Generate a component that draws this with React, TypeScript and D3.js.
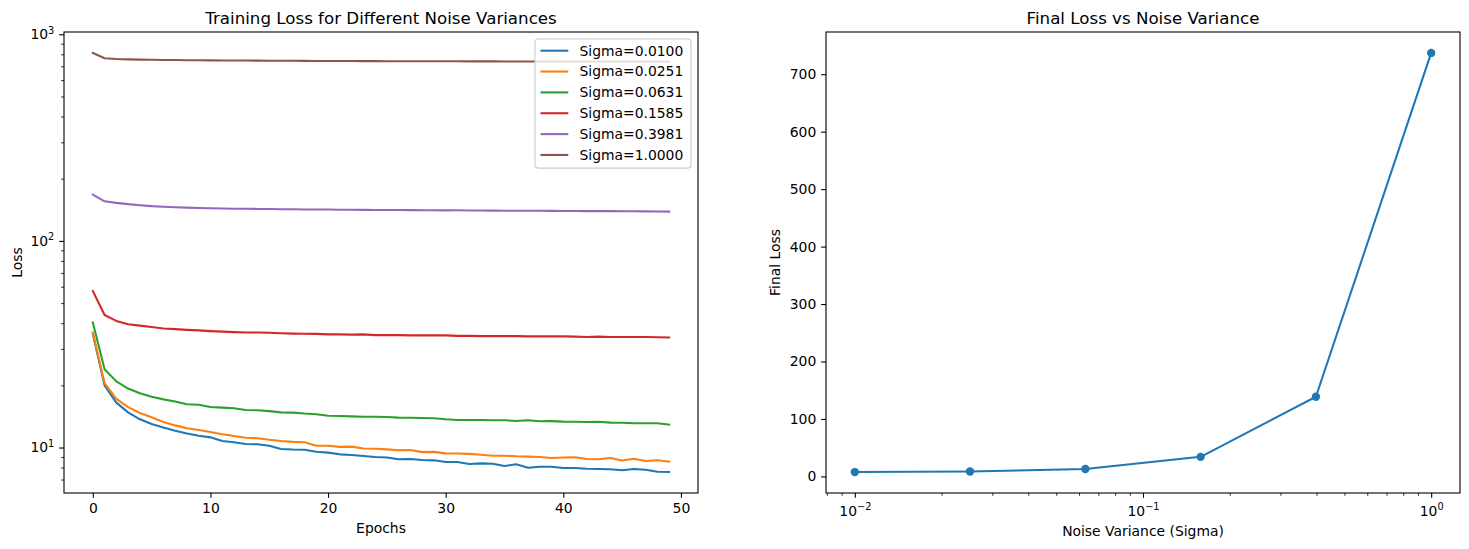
import React, { useEffect, useRef } from 'react';
import * as d3 from 'd3';

// training loss per epoch, one array per noise level
const sigmaValues = [0.01, 0.0251, 0.0631, 0.1585, 0.3981, 1.0];
const sigmaLabels = ['Sigma=0.0100', 'Sigma=0.0251', 'Sigma=0.0631', 'Sigma=0.1585', 'Sigma=0.3981', 'Sigma=1.0000'];
const colors = ['#1f77b4', '#ff7f0e', '#2ca02c', '#d62728', '#9467bd', '#8c564b'];

const lossSigma0100 = [35.5, 20.0, 16.5, 14.8, 13.7, 13.0, 12.5, 12.05, 11.7, 11.4, 11.2, 10.75, 10.6, 10.4, 10.38, 10.2, 9.84, 9.78, 9.75, 9.55,
  9.45, 9.27, 9.2, 9.1, 9.0, 8.95, 8.77, 8.8, 8.7, 8.67, 8.51, 8.51, 8.32, 8.38, 8.35, 8.14, 8.3, 7.98, 8.08, 8.08,
  7.96, 7.96, 7.9, 7.88, 7.85, 7.77, 7.88, 7.8, 7.64, 7.61];
const lossSigma0251 = [36.0, 20.5, 17.2, 15.7, 14.7, 14.0, 13.3, 12.8, 12.4, 12.15, 11.9, 11.6, 11.36, 11.15, 11.1, 10.9, 10.75, 10.65, 10.6, 10.2,
  10.2, 10.07, 10.1, 9.9, 9.86, 9.8, 9.7, 9.72, 9.5, 9.53, 9.37, 9.35, 9.32, 9.22, 9.13, 9.13, 9.07, 9.04, 9.0, 8.9,
  8.95, 8.98, 8.8, 8.77, 8.9, 8.65, 8.83, 8.6, 8.68, 8.55];
const lossSigma0631 = [40.3, 23.9, 20.9, 19.3, 18.3, 17.6, 17.1, 16.7, 16.2, 16.1, 15.7, 15.6, 15.5, 15.2, 15.15, 15.0, 14.8, 14.75, 14.6, 14.5,
  14.25, 14.2, 14.15, 14.1, 14.1, 14.05, 13.95, 13.93, 13.9, 13.85, 13.7, 13.6, 13.58, 13.58, 13.55, 13.55, 13.45, 13.55, 13.4, 13.42,
  13.35, 13.33, 13.3, 13.32, 13.2, 13.18, 13.1, 13.1, 13.12, 12.9];
const lossSigma1585 = [57.2, 43.8, 41.0, 39.5, 38.9, 38.3, 37.65, 37.4, 37.1, 36.9, 36.6, 36.4, 36.2, 36.0, 36.0, 35.9, 35.7, 35.6, 35.55, 35.5,
  35.3, 35.3, 35.2, 35.3, 35.0, 35.0, 35.0, 34.9, 34.9, 34.9, 34.9, 34.7, 34.7, 34.6, 34.6, 34.6, 34.6, 34.5, 34.5, 34.5,
  34.5, 34.4, 34.3, 34.4, 34.3, 34.3, 34.3, 34.3, 34.2, 34.1];
const lossSigma3981 = [167.5, 155.5, 152.8, 150.6, 148.9, 147.3, 146.2, 145.5, 144.9, 144.3, 143.8, 143.5, 143.2, 143.0, 142.8, 142.6, 142.4, 142.2, 142.0, 141.9,
  141.8, 141.6, 141.4, 141.3, 141.2, 141.1, 141.0, 140.9, 140.8, 140.7, 140.5, 140.6, 140.3, 140.2, 140.1, 140.0, 140.0, 139.9, 139.8, 139.7,
  139.6, 139.5, 139.4, 139.4, 139.3, 139.2, 139.1, 139.0, 138.8, 138.6];
const lossSigma10000 = [812, 766, 759, 756, 754, 752.5, 751, 750, 749, 748, 747.5, 747, 746.5, 746, 745.5, 745, 744.5, 744, 743.5, 743,
  742.5, 742, 741.8, 741.5, 741.2, 741, 740.7, 740.5, 740.2, 740, 739.8, 739.6, 739.4, 739.2, 739, 738.9, 738.8, 738.7, 738.5, 738.4,
  738.3, 738.2, 738.1, 738, 737.9, 737.8, 737.6, 737.5, 737.3, 737];

const lossSeries = [lossSigma0100, lossSigma0251, lossSigma0631, lossSigma1585, lossSigma3981, lossSigma10000];

const FONT = 'DejaVu Sans, sans-serif';
const FS = 13.9;
const TITLE_FS = 16.67;
const MAJOR = 4.86;
const MINOR = 2.78;

function logTicks(domain: number[]) {
  const [lo, hi] = domain;
  const major: number[] = [];
  const minor: number[] = [];
  for (let e = Math.floor(Math.log10(lo)) - 1; e <= Math.ceil(Math.log10(hi)); e++) {
    const base = Math.pow(10, e);
    if (base >= lo && base <= hi) major.push(base);
    for (let k = 2; k <= 9; k++) {
      const v = k * base;
      if (v >= lo && v <= hi) minor.push(v);
    }
  }
  return { major, minor };
}

function styleAxis(g: any) {
  g.select('.domain').remove();
  g.selectAll('line').attr('stroke', '#000').attr('stroke-width', 1.1);
  g.selectAll('text').attr('font-family', FONT).attr('font-size', FS).attr('fill', '#000');
}

function powerLabels(g: any, sup: number) {
  g.selectAll('.tick text').each(function (this: any, d: any) {
    const t = d3.select(this);
    const exp = Math.round(Math.log10(d));
    t.text(null);
    t.append('tspan').text('10');
    t.append('tspan').attr('font-size', FS * 0.7).attr('dy', -sup).text(exp < 0 ? '\u2212' + -exp : String(exp));
  });
}

export default function App() {
  const ref = useRef<SVGSVGElement>(null);

  useEffect(() => {
    const width = 1469;
    const height = 549;
    const svg = d3.select(ref.current).attr('width', width).attr('height', height);
    svg.selectAll('*').remove();
    svg.append('rect').attr('width', width).attr('height', height).attr('fill', '#fff');

    const top = 32;
    const bottom = 493;

    // ---------- left: loss curves on a log axis ----------
    const L = { x0: 64, x1: 698 };
    const nEpochs = lossSigma0100.length;
    const xPad = (nEpochs - 1) * 0.05;
    const x = d3.scaleLinear().domain([-xPad, nEpochs - 1 + xPad]).range([L.x0, L.x1]);

    const allLoss = lossSeries.flat();
    const lmin = Math.log10(d3.min(allLoss)!);
    const lmax = Math.log10(d3.max(allLoss)!);
    const lpad = (lmax - lmin) * 0.05;
    const y = d3.scaleLog().domain([Math.pow(10, lmin - lpad), Math.pow(10, lmax + lpad)]).range([bottom, top]);

    const left = svg.append('g');
    left.append('defs').append('clipPath').attr('id', 'clipL')
      .append('rect').attr('x', L.x0).attr('y', top).attr('width', L.x1 - L.x0).attr('height', bottom - top);

    const line = d3.line<number>().x((d, i) => x(i)).y(d => y(d));
    const plot = left.append('g').attr('clip-path', 'url(#clipL)');
    lossSeries.forEach((s, i) => {
      plot.append('path').attr('d', line(s)).attr('fill', 'none')
        .attr('stroke', colors[i]).attr('stroke-width', 2.08).attr('stroke-linejoin', 'round').attr('stroke-linecap', 'square');
    });

    const xAx = left.append('g').attr('transform', `translate(0,${bottom})`)
      .call(d3.axisBottom(x).tickValues(d3.range(0, 51, 10)).tickSize(MAJOR).tickPadding(4.86).tickSizeOuter(0));
    styleAxis(xAx);

    const yt = logTicks(y.domain());
    const yMinor = left.append('g').attr('transform', `translate(${L.x0},0)`)
      .call(d3.axisLeft(y).tickValues(yt.minor).tickSize(MINOR).tickFormat(() => '').tickSizeOuter(0));
    styleAxis(yMinor);
    yMinor.selectAll('line').attr('stroke-width', 0.83);
    const yMajor = left.append('g').attr('transform', `translate(${L.x0},0)`)
      .call(d3.axisLeft(y).tickValues(yt.major).tickSize(MAJOR).tickPadding(4.86).tickSizeOuter(0));
    styleAxis(yMajor);
    powerLabels(yMajor, 5.5);

    left.append('rect').attr('x', L.x0).attr('y', top).attr('width', L.x1 - L.x0).attr('height', bottom - top)
      .attr('fill', 'none').attr('stroke', '#000').attr('stroke-width', 1.1);

    left.append('text').attr('x', (L.x0 + L.x1) / 2).attr('y', 23.5).attr('text-anchor', 'middle')
      .attr('font-family', FONT).attr('font-size', TITLE_FS).text('Training Loss for Different Noise Variances');
    left.append('text').attr('x', (L.x0 + L.x1) / 2).attr('y', 533).attr('text-anchor', 'middle')
      .attr('font-family', FONT).attr('font-size', FS).text('Epochs');
    left.append('text').attr('transform', `translate(22,${(top + bottom) / 2}) rotate(-90)`).attr('text-anchor', 'middle')
      .attr('font-family', FONT).attr('font-size', FS).text('Loss');

    // legend
    const rowH = FS * 1.5;
    const lgW = 156;
    const lgH = rowH * sigmaLabels.length + 4;
    const lgX = L.x1 - 7 - lgW;
    const lgY = top + 7;
    const lg = left.append('g');
    lg.append('rect').attr('x', lgX).attr('y', lgY).attr('width', lgW).attr('height', lgH).attr('rx', 3)
      .attr('fill', '#fff').attr('fill-opacity', 0.8).attr('stroke', '#cccccc').attr('stroke-width', 1.1);
    sigmaLabels.forEach((lab, i) => {
      const cy = lgY + 11.7 + i * rowH;
      lg.append('line').attr('x1', lgX + 5.5).attr('x2', lgX + 33.3).attr('y1', cy).attr('y2', cy)
        .attr('stroke', colors[i]).attr('stroke-width', 2.08);
      lg.append('text').attr('x', lgX + 44.5).attr('y', cy).attr('dy', '0.35em')
        .attr('font-family', FONT).attr('font-size', FS).text(lab);
    });

    // ---------- right: final loss vs sigma ----------
    const R = { x0: 826, x1: 1460 };
    const finalLoss = lossSeries.map(s => s[s.length - 1]);
    const sLo = Math.log10(d3.min(sigmaValues)!);
    const sHi = Math.log10(d3.max(sigmaValues)!);
    const sPad = (sHi - sLo) * 0.05;
    const xs = d3.scaleLog().domain([Math.pow(10, sLo - sPad), Math.pow(10, sHi + sPad)]).range([R.x0, R.x1]);
    const fMin = d3.min(finalLoss)!;
    const fMax = d3.max(finalLoss)!;
    const fPad = (fMax - fMin) * 0.05;
    const ys = d3.scaleLinear().domain([fMin - fPad, fMax + fPad]).range([bottom, top]);

    const right = svg.append('g');
    const pts = sigmaValues.map((s, i) => [s, finalLoss[i]] as [number, number]);
    right.append('path').attr('d', d3.line().x(d => xs(d[0])).y(d => ys(d[1]))(pts))
      .attr('fill', 'none').attr('stroke', colors[0]).attr('stroke-width', 2.08).attr('stroke-linejoin', 'round');
    right.selectAll('circle.pt').data(pts).enter().append('circle')
      .attr('cx', d => xs(d[0])).attr('cy', d => ys(d[1])).attr('r', 4.17).attr('fill', colors[0]);

    const xt = logTicks(xs.domain());
    const xsMinor = right.append('g').attr('transform', `translate(0,${bottom})`)
      .call(d3.axisBottom(xs).tickValues(xt.minor).tickSize(MINOR).tickFormat(() => '').tickSizeOuter(0));
    styleAxis(xsMinor);
    xsMinor.selectAll('line').attr('stroke-width', 0.83);
    const xsMajor = right.append('g').attr('transform', `translate(0,${bottom})`)
      .call(d3.axisBottom(xs).tickValues(xt.major).tickSize(MAJOR).tickPadding(8.5).tickSizeOuter(0));
    styleAxis(xsMajor);
    powerLabels(xsMajor, 6);

    const ysAx = right.append('g').attr('transform', `translate(${R.x0},0)`)
      .call(d3.axisLeft(ys).tickValues(d3.range(0, 701, 100)).tickSize(MAJOR).tickPadding(4.86).tickSizeOuter(0));
    styleAxis(ysAx);

    right.append('rect').attr('x', R.x0).attr('y', top).attr('width', R.x1 - R.x0).attr('height', bottom - top)
      .attr('fill', 'none').attr('stroke', '#000').attr('stroke-width', 1.1);

    right.append('text').attr('x', (R.x0 + R.x1) / 2).attr('y', 23.5).attr('text-anchor', 'middle')
      .attr('font-family', FONT).attr('font-size', TITLE_FS).text('Final Loss vs Noise Variance');
    right.append('text').attr('x', (R.x0 + R.x1) / 2).attr('y', 536).attr('text-anchor', 'middle')
      .attr('font-family', FONT).attr('font-size', FS).text('Noise Variance (Sigma)');
    right.append('text').attr('transform', `translate(780,${(top + bottom) / 2}) rotate(-90)`).attr('text-anchor', 'middle')
      .attr('font-family', FONT).attr('font-size', FS).text('Final Loss');
  });

  return <svg ref={ref} style={{ position: 'absolute', left: 0, top: 0 }} />;
}
